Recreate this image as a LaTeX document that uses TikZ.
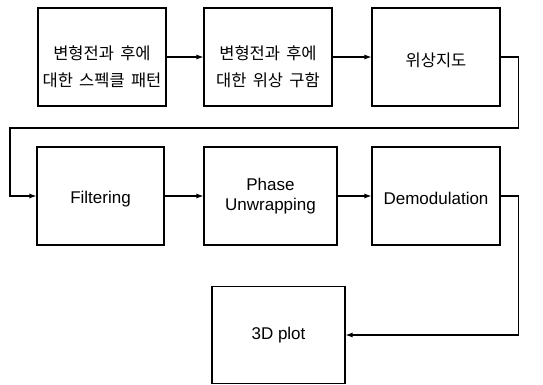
\documentclass[tikz,border=0pt]{standalone}
\usepackage{fontspec}
\setmainfont{Liberation Sans}
\newfontfamily\krfont[WordSpace=1.7]{Noto Sans CJK KR}
\usetikzlibrary{arrows.meta}
\newcommand\krdrop[1]{\rule{0pt}{#1}}
\tikzset{
  block/.style={draw, line width=1.1pt, minimum width=128pt, minimum height=98pt,
    align=center, inner sep=0pt, font=\fontsize{17}{20}\selectfont},
  krblock/.style={block, font=\krfont\fontsize{16.5}{27}\selectfont},
  flow/.style={line width=1.1pt, -{Latex[length=7pt,width=5pt]}}
}
\begin{document}
\begin{tikzpicture}[x=1pt,y=-1pt]
    \useasboundingbox (0,0) rectangle (543,385);

    % first row
    \node[krblock] (speckle) at (102,57) {\krdrop{34pt}변형전과 후에\\대한 스펙클 패턴};
    \node[krblock] (phase)   at (268,57) {\krdrop{34pt}변형전과 후에\\대한 위상 구함};
    \node[krblock] (map)     at (436,57) {\krdrop{21pt}위상지도};

    % second row
    \node[block, minimum width=127pt] (filter) at (100.5,196) {\krdrop{19pt}Filtering};
    \node[block, minimum width=133pt] (unwrap) at (270.5,196) {Phase\\Unwrapping};
    \node[block] (demod) at (436,196) {\krdrop{17pt}Demodulation};

    % output
    \node[block, minimum width=133pt, minimum height=97pt] (plot) at (278.5,335) {3D plot};

    % connectors
    \draw[flow] (speckle.east) -- (phase.west);
    \draw[flow] (phase.east) -- (map.west);
    \coordinate (wrap) at (10,128);
    \draw[flow] (map.east) -- ++(18,0) |- (wrap) |- (filter.west);
    \draw[flow] (filter.east) -- (unwrap.west);
    \draw[flow] (unwrap.east) -- (demod.west);
    \draw[flow] (demod.east) -- ++(18,0) |- (plot.east);
\end{tikzpicture}
\end{document}
